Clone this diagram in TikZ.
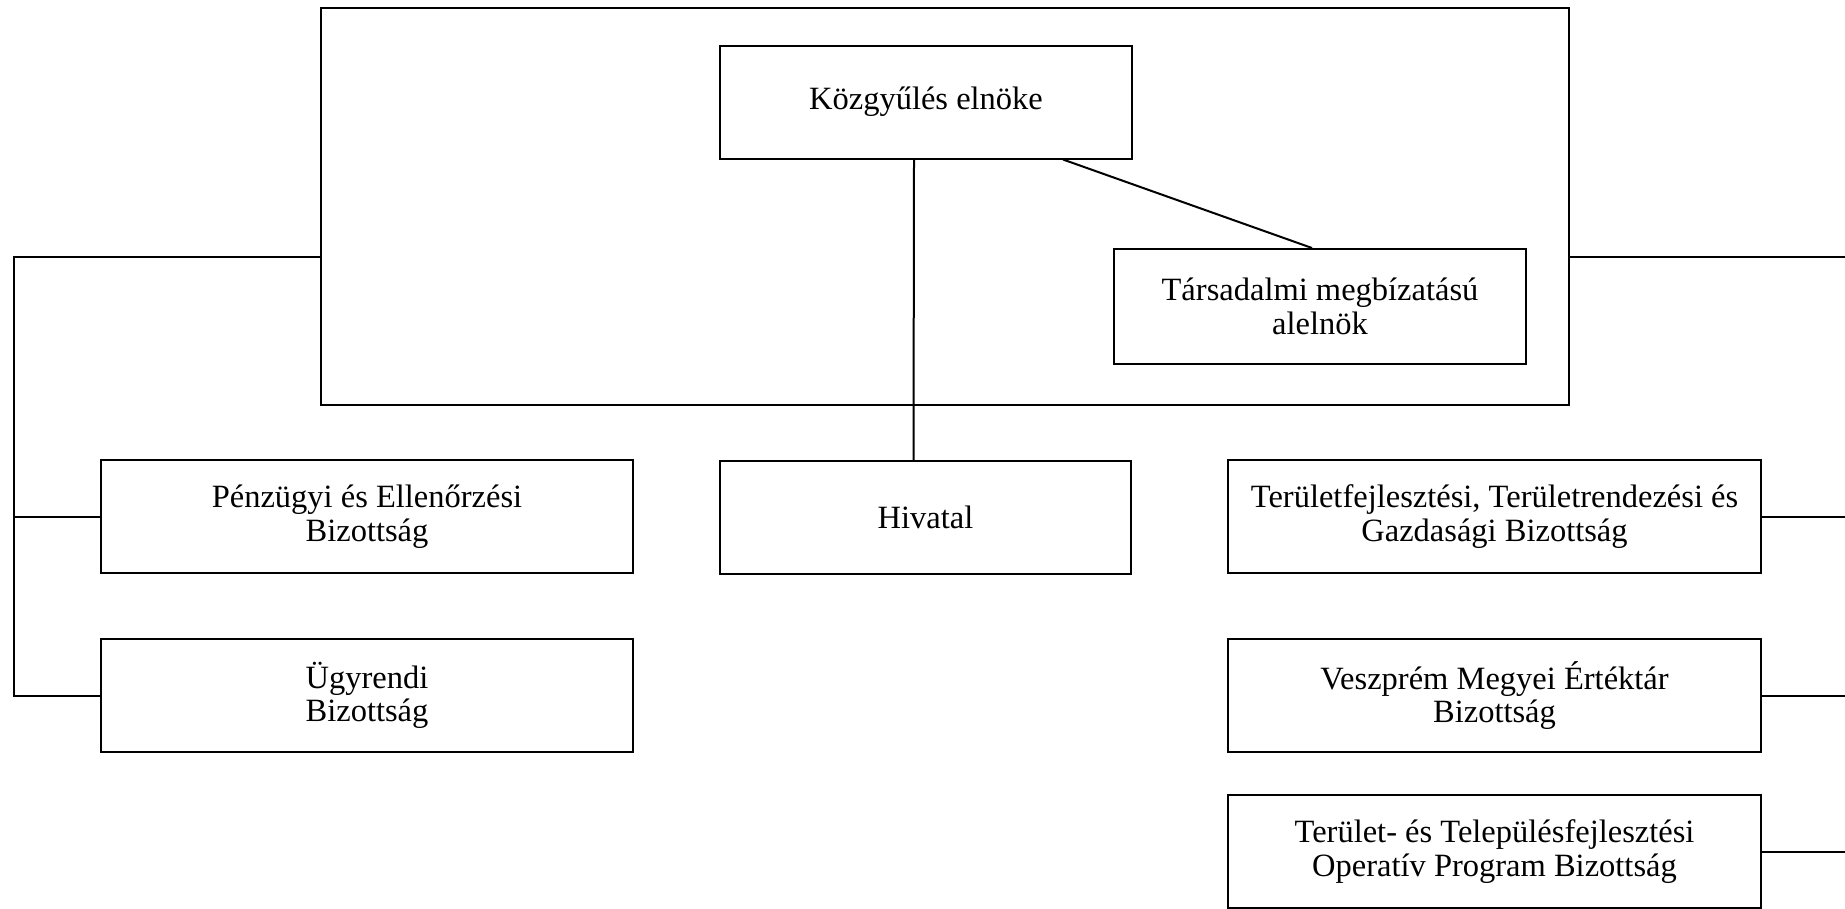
\documentclass[tikz,border=0pt]{standalone}
\usepackage{fontspec}
\setmainfont{Liberation Serif}
\usetikzlibrary{positioning, calc}

\begin{document}
\begin{tikzpicture}[x=0.4pt,y=-0.4pt,line width=0.8pt,
  font=\fontsize{13}{13.4}\selectfont]
  \tikzstyle{doboz}=[rectangle,draw,align=center,minimum height=45.2pt,inner sep=2pt]
  \tikzstyle{szeles}=[doboz,minimum width=213pt]
  \tikzstyle{keskeny}=[doboz,minimum width=164.6pt]

  \useasboundingbox (0,0) rectangle (1845,908);

  % kozgyules
  \node[rectangle,draw,minimum width=499.2pt,minimum height=158.8pt] (keret) at (945,206.5) {};
  \node[keskeny] (elnok) at (926,102) {Közgyűlés elnöke};
  \node[keskeny,minimum height=46pt] (alelnok) at (1320,306.5) {Társadalmi megbízatású\\alelnök};
  \node[keskeny] (hivatal) at (925.5,517.5) {Hivatal};

  % bizottsagok
  \node[szeles] (penzugyi) at (367,516.5) {Pénzügyi és Ellenőrzési\\Bizottság};
  \node[szeles] (ugyrendi) at (367,695.5) {Ügyrendi\\Bizottság};
  \node[szeles] (terfejl) at (1494.5,516.5) {Területfejlesztési, Területrendezési és\\Gazdasági Bizottság};
  \node[szeles] (ertektar) at (1494.5,695.5) {Veszprém Megyei Értéktár\\Bizottság};
  \node[szeles] (top) at (1494.5,851.5) {Terület- és Településfejlesztési\\Operatív Program Bizottság};

  \coordinate (bal) at (14,256.5);
  \coordinate (jobb) at (1845,256.5);

  \draw ([xshift=-4.8pt]elnok.south) -- ([xshift=-4.8pt]hivatal.north);
  \draw ([xshift=54.8pt]elnok.south) -- ([xshift=-3.2pt]alelnok.north);

  \draw (keret.west |- bal) -- (bal) -- (bal |- ugyrendi.west) -- (ugyrendi.west);
  \draw (bal |- penzugyi.west) -- (penzugyi.west);

  \draw (keret.east |- jobb) -- (jobb);
  \draw (terfejl.east) -- (terfejl.east -| jobb);
  \draw (ertektar.east) -- (ertektar.east -| jobb);
  \draw (top.east) -- (top.east -| jobb);
\end{tikzpicture}
\end{document}
